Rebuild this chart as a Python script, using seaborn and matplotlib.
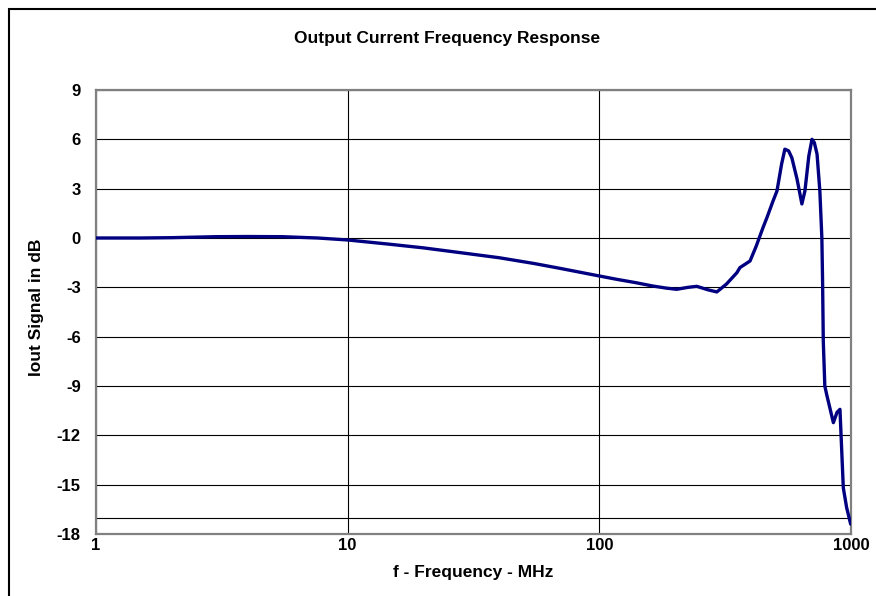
import matplotlib
matplotlib.use("Agg")
import matplotlib.pyplot as plt
import seaborn as sns
import pandas as pd
from matplotlib.patches import Rectangle
from matplotlib.ticker import NullLocator

# ---- data ----
freq_mhz = [1, 1.5, 2, 3, 4, 5.5, 7.6, 10, 14.7, 20, 30, 40, 55, 70, 85, 100,
            117, 140, 163, 185, 203, 225, 244, 270, 293, 320, 352, 362, 397,
            420, 447, 465, 490, 508, 530, 546, 565, 582, 610, 638, 656, 680, 700,
            715, 733, 752, 766, 771, 776, 787, 800, 851, 880, 904, 932, 961, 997]
iout_db = [0.0, 0.0, 0.02, 0.08, 0.09, 0.08, 0.0, -0.12, -0.38, -0.6, -0.95,
           -1.2, -1.55, -1.85, -2.1, -2.31, -2.51, -2.72, -2.92, -3.05, -3.12,
           -3.0, -2.94, -3.15, -3.28, -2.8, -2.11, -1.8, -1.4, -0.5, 0.63, 1.3,
           2.25, 2.86, 4.5, 5.4, 5.3, 4.88, 3.6, 2.07, 2.86, 5.0, 6.0, 5.8,
           5.1, 2.86, 0.0, -2.6, -6.26, -9.0, -9.5, -11.23, -10.6, -10.42,
           -15.19, -16.4, -17.4]

x_ticks = [1, 10, 100, 1000]
x_tick_labels = ["1", "10", "100", "1000"]
y_ticks = [9, 6, 3, 0, -3, -6, -9, -12, -15, -18]
y_tick_labels = ["9", "6", "3", "0", "-3", "-6", "-9", "-12", "-15", "-18"]
extra_grid_y = [-17]

title = "Output Current Frequency Response"
x_label = "f - Frequency - MHz"
y_label = "Iout Signal in dB"

sns.set_theme(style="white")
plt.rcParams['font.family'] = ['Liberation Sans', 'DejaVu Sans']

W, H = 876, 596
fig = plt.figure(figsize=(W / 100, H / 100), dpi=100)
fig.patch.set_facecolor("white")
ax = fig.add_axes([96 / W, (H - 534) / H, 755 / W, 444 / H])

df = pd.DataFrame({"f": freq_mhz, "db": iout_db})
sns.lineplot(data=df, x="f", y="db", ax=ax, color="#000080", linewidth=2.4,
             sort=False, estimator=None, zorder=3)

ax.set_xscale("log")
ax.set_xlim(1, 1000)
ax.set_ylim(-18, 9)
ax.set_xticks(x_ticks)
ax.set_xticklabels(x_tick_labels)
ax.xaxis.set_minor_locator(NullLocator())
ax.set_yticks(y_ticks)
ax.set_yticklabels(y_tick_labels)

ax.set_axisbelow(True)
ax.grid(True, which="major", color="black", linewidth=0.8)
for yv in extra_grid_y:
    ax.axhline(yv, color="black", linewidth=0.8, zorder=1)

for s in ax.spines.values():
    s.set_color("#808080")
    s.set_linewidth(1.6)

ax.tick_params(axis="y", direction="out", length=6, width=1, color="#808080",
               pad=5, labelsize=12)
ax.tick_params(axis="x", length=0, pad=3, labelsize=12)
for lab in ax.get_xticklabels() + ax.get_yticklabels():
    lab.set_fontweight("bold")
    lab.set_color("black")

ax.set_xlabel(x_label, fontsize=12.5, fontweight="bold", color="black", va="top")
ax.xaxis.set_label_coords(0.5, -0.07)
ax.set_ylabel(y_label, fontsize=12.5, fontweight="bold", color="black")
ax.yaxis.set_label_coords(-(96 - 44) / 755, 0.51)

fig.suptitle(title, x=447 / W, y=1 - 38 / H, va="center", fontsize=12.5,
             fontweight="bold", color="black")

frame = Rectangle((9 / W, -0.1), 1.2, 1 - 9 / H + 0.1, transform=fig.transFigure,
                  fill=False, edgecolor="black", linewidth=1.5, clip_on=False)
fig.add_artist(frame)

fig.savefig("out.png", dpi=100)
